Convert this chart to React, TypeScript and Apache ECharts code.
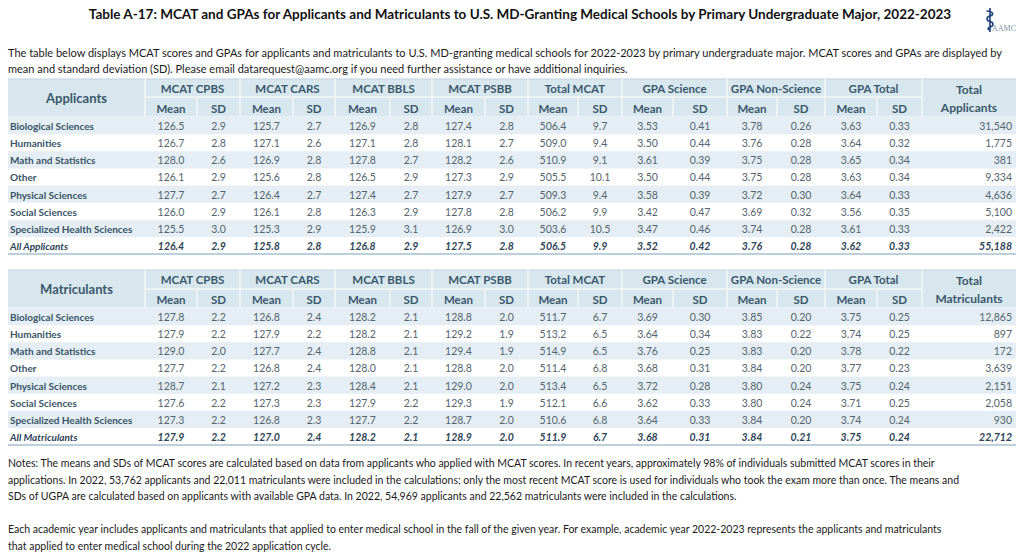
import React, { useEffect, useRef } from "react";
import * as echarts from "echarts";

// ---------- DATA ----------
const groupHeaders = ["MCAT CPBS", "MCAT CARS", "MCAT BBLS", "MCAT PSBB", "Total MCAT", "GPA Science", "GPA Non-Science", "GPA Total"];
const subHeaders = ["Mean", "SD"];
const majors = ["Biological Sciences", "Humanities", "Math and Statistics", "Other", "Physical Sciences", "Social Sciences", "Specialized Health Sciences"];

// Applicants (last entry = All Applicants)
const appCpbsMean = [126.5, 126.7, 128.0, 126.1, 127.7, 126.0, 125.5, 126.4];
const appCpbsSD = [2.9, 2.8, 2.6, 2.9, 2.7, 2.9, 3.0, 2.9];
const appCarsMean = [125.7, 127.1, 126.9, 125.6, 126.4, 126.1, 125.3, 125.8];
const appCarsSD = [2.7, 2.6, 2.8, 2.8, 2.7, 2.8, 2.9, 2.8];
const appBblsMean = [126.9, 127.1, 127.8, 126.5, 127.4, 126.3, 125.9, 126.8];
const appBblsSD = [2.8, 2.8, 2.7, 2.9, 2.7, 2.9, 3.1, 2.9];
const appPsbbMean = [127.4, 128.1, 128.2, 127.3, 127.9, 127.8, 126.9, 127.5];
const appPsbbSD = [2.8, 2.7, 2.6, 2.9, 2.7, 2.8, 3.0, 2.8];
const appTotalMean = [506.4, 509.0, 510.9, 505.5, 509.3, 506.2, 503.6, 506.5];
const appTotalSD = [9.7, 9.4, 9.1, 10.1, 9.4, 9.9, 10.5, 9.9];
const appGpaSciMean = [3.53, 3.50, 3.61, 3.50, 3.58, 3.42, 3.47, 3.52];
const appGpaSciSD = [0.41, 0.44, 0.39, 0.44, 0.39, 0.47, 0.46, 0.42];
const appGpaNonMean = [3.78, 3.76, 3.75, 3.75, 3.72, 3.69, 3.74, 3.76];
const appGpaNonSD = [0.26, 0.28, 0.28, 0.28, 0.30, 0.32, 0.28, 0.28];
const appGpaTotMean = [3.63, 3.64, 3.65, 3.63, 3.64, 3.56, 3.61, 3.62];
const appGpaTotSD = [0.33, 0.32, 0.34, 0.34, 0.33, 0.35, 0.33, 0.33];
const appCount = [31540, 1775, 381, 9334, 4636, 5100, 2422, 55188];

// Matriculants (last entry = All Matriculants)
const matCpbsMean = [127.8, 127.9, 129.0, 127.7, 128.7, 127.6, 127.3, 127.9];
const matCpbsSD = [2.2, 2.2, 2.0, 2.2, 2.1, 2.2, 2.2, 2.2];
const matCarsMean = [126.8, 127.9, 127.7, 126.8, 127.2, 127.3, 126.8, 127.0];
const matCarsSD = [2.4, 2.2, 2.4, 2.4, 2.3, 2.3, 2.3, 2.4];
const matBblsMean = [128.2, 128.2, 128.8, 128.0, 128.4, 127.9, 127.7, 128.2];
const matBblsSD = [2.1, 2.1, 2.1, 2.1, 2.1, 2.2, 2.2, 2.1];
const matPsbbMean = [128.8, 129.2, 129.4, 128.8, 129.0, 129.3, 128.7, 128.9];
const matPsbbSD = [2.0, 1.9, 1.9, 2.0, 2.0, 1.9, 2.0, 2.0];
const matTotalMean = [511.7, 513.2, 514.9, 511.4, 513.4, 512.1, 510.6, 511.9];
const matTotalSD = [6.7, 6.5, 6.5, 6.8, 6.5, 6.6, 6.8, 6.7];
const matGpaSciMean = [3.69, 3.64, 3.76, 3.68, 3.72, 3.62, 3.64, 3.68];
const matGpaSciSD = [0.30, 0.34, 0.25, 0.31, 0.28, 0.33, 0.33, 0.31];
const matGpaNonMean = [3.85, 3.83, 3.83, 3.84, 3.80, 3.80, 3.84, 3.84];
const matGpaNonSD = [0.20, 0.22, 0.20, 0.20, 0.24, 0.24, 0.20, 0.21];
const matGpaTotMean = [3.75, 3.74, 3.78, 3.77, 3.75, 3.71, 3.74, 3.75];
const matGpaTotSD = [0.25, 0.25, 0.22, 0.23, 0.24, 0.25, 0.24, 0.24];
const matCount = [12865, 897, 172, 3639, 2151, 2058, 930, 22712];

const titleText = "Table A-17: MCAT and GPAs for Applicants and Matriculants to U.S. MD-Granting Medical Schools by Primary Undergraduate Major, 2022-2023";
const introLines = [
  "The table below displays MCAT scores and GPAs for applicants and matriculants to U.S. MD-granting medical schools for 2022-2023 by primary undergraduate major. MCAT scores and GPAs are displayed by",
  "mean and standard deviation (SD). Please email datarequest@aamc.org if you need further assistance or have additional inquiries.",
];
const noteLines = [
  "Notes: The means and SDs of MCAT scores are calculated based on data from applicants who applied with MCAT scores. In recent years, approximately 98% of individuals submitted MCAT scores in their",
  "applications. In 2022, 53,762 applicants and 22,011 matriculants were included in the calculations; only the most recent MCAT score is used for individuals who took the exam more than once. The means and",
  "SDs of UGPA are calculated based on applicants with available GPA data. In 2022, 54,969 applicants and 22,562 matriculants were included in the calculations.",
  "",
  "Each academic year includes applicants and matriculants that applied to enter medical school in the fall of the given year. For example, academic year 2022-2023 represents the applicants and matriculants",
  "that applied to enter medical school during the 2022 application cycle.",
];

// ---------- LAYOUT / STYLE ----------
const FONT = "Lato";
const EDGES = [0, 137, 189, 232, 285, 327, 382, 424, 477, 520, 570, 614, 665, 719, 769, 817, 869, 914, 1008];
const LEFT = 8;
const WIDTH = 1008;
const HEADER_BG = "#d8e6ee";
const STRIPE = "#e4eef4";
const HEADER_TEXT = "#3b586b";
const LABEL_TEXT = "#3a5467";
const DATA_TEXT = "#55646e";
const ALL_TEXT = "#2e4456";
const BORDER = "#a6c1d1";

const tables = [
  { name: "Applicants", all: "All Applicants", totalLabel: "Applicants", headerTop: 79, rowSplit: 97, dataTop: 117, dataH: 137,
    cols: [appCpbsMean, appCpbsSD, appCarsMean, appCarsSD, appBblsMean, appBblsSD, appPsbbMean, appPsbbSD, appTotalMean, appTotalSD, appGpaSciMean, appGpaSciSD, appGpaNonMean, appGpaNonSD, appGpaTotMean, appGpaTotSD], count: appCount },
  { name: "Matriculants", all: "All Matriculants", totalLabel: "Matriculants", headerTop: 270, rowSplit: 289, dataTop: 308, dataH: 137,
    cols: [matCpbsMean, matCpbsSD, matCarsMean, matCarsSD, matBblsMean, matBblsSD, matPsbbMean, matPsbbSD, matTotalMean, matTotalSD, matGpaSciMean, matGpaSciSD, matGpaNonMean, matGpaNonSD, matGpaTotMean, matGpaTotSD], count: matCount },
];

const fmt = (v: number, ci: number) => v.toFixed(ci >= 10 ? 2 : 1);

function rowCells(t: typeof tables[number], r: number): string[] {
  const label = r < majors.length ? majors[r] : t.all;
  return [label, ...t.cols.map((arr, ci) => fmt(arr[r], ci)), t.count[r].toLocaleString("en-US")];
}

function headerGraphics(t: typeof tables[number]) {
  const els: any[] = [];
  const x = (e: number) => LEFT + EDGES[e];
  const top = t.headerTop, split = t.rowSplit, bottom = t.dataTop;
  els.push({ type: "rect", shape: { x: LEFT, y: top, width: WIDTH, height: bottom - top }, style: { fill: HEADER_BG } });
  els.push({ type: "line", shape: { x1: LEFT, y1: top, x2: LEFT + WIDTH, y2: top }, style: { stroke: "#bfd3df", lineWidth: 1 } });
  els.push({ type: "line", shape: { x1: x(1), y1: split, x2: x(17), y2: split }, style: { stroke: "#ffffff", lineWidth: 1 } });
  els.push({ type: "line", shape: { x1: LEFT, y1: bottom, x2: LEFT + WIDTH, y2: bottom }, style: { stroke: "#ffffff", lineWidth: 1 } });
  for (let e = 1; e <= 17; e++) {
    const isGroup = e % 2 === 1;
    els.push({ type: "line", shape: { x1: x(e), y1: isGroup ? top : split, x2: x(e), y2: bottom }, style: { stroke: "#ffffff", lineWidth: 1 } });
  }
  els.push({ type: "text", x: (x(0) + x(1)) / 2, y: (top + bottom) / 2, style: { text: t.name, fill: HEADER_TEXT, font: `bold 13px ${FONT}`, textAlign: "center", textVerticalAlign: "middle" } });
  groupHeaders.forEach((g, i) => {
    els.push({ type: "text", x: (x(1 + 2 * i) + x(3 + 2 * i)) / 2, y: (top + split) / 2, style: { text: g, fill: HEADER_TEXT, font: `bold 11.5px ${FONT}`, textAlign: "center", textVerticalAlign: "middle" } });
    subHeaders.forEach((s, k) => {
      els.push({ type: "text", x: (x(1 + 2 * i + k) + x(2 + 2 * i + k)) / 2, y: (split + bottom) / 2 + 1, style: { text: s, fill: HEADER_TEXT, font: `bold 11.5px ${FONT}`, textAlign: "center", textVerticalAlign: "middle" } });
    });
  });
  els.push({ type: "text", x: (x(17) + x(18)) / 2, y: top + 10, style: { text: "Total", fill: HEADER_TEXT, font: `bold 12px ${FONT}`, textAlign: "center", textVerticalAlign: "middle" } });
  els.push({ type: "text", x: (x(17) + x(18)) / 2, y: top + 28, style: { text: t.totalLabel, fill: HEADER_TEXT, font: `bold 12px ${FONT}`, textAlign: "center", textVerticalAlign: "middle" } });
  return els;
}

export default function App() {
  const ref = useRef<HTMLDivElement>(null);
  useEffect(() => {
    if (!ref.current) return;
    echarts.graphic.registerShape(
      "logo",
      echarts.graphic.extendPath("M5 0 L5 24 M1.5 3 C9 3.5 9 7 5 8 C1 9 1 12.5 5 13.5 C9 14.5 9 18 5 19 C3 19.5 2.5 21 4 22", {}) as any
    );
    const chart = echarts.init(ref.current, undefined, { renderer: "svg" });

    const rowLabels = (t: typeof tables[number]) => [...majors, t.all];

    const graphics: any[] = [];
    graphics.push({ type: "text", x: 520, y: 14, style: { text: titleText, fill: "#111111", font: `bold 13.5px ${FONT}`, textAlign: "center", textVerticalAlign: "middle" } });
    introLines.forEach((l, i) => graphics.push({ type: "text", x: 8, y: 52 + i * 16.5, style: { text: l, fill: "#1a1a1a", font: `11px ${FONT}`, textAlign: "left", textVerticalAlign: "middle" } }));
    noteLines.forEach((l, i) => {
      if (l) graphics.push({ type: "text", x: 8, y: 463 + i * 16.5, style: { text: l, fill: "#1a1a1a", font: `10.5px ${FONT}`, textAlign: "left", textVerticalAlign: "middle" } });
    });
    tables.forEach((t) => graphics.push(...headerGraphics(t)));
    graphics.push({ type: "logo", x: 985, y: 8, style: { stroke: "#1d3f7a", fill: "none", lineWidth: 1.6 } });
    graphics.push({ type: "text", x: 992, y: 28, style: { text: "AAMC", fill: "#7f93a8", font: `8px "Liberation Serif"`, textAlign: "left", textVerticalAlign: "middle" } });

    const series = tables.map((t, ti) => ({
      type: "custom" as const,
      xAxisIndex: ti,
      yAxisIndex: ti,
      clip: false,
      data: rowLabels(t).map((_, i) => [0, i]),
      renderItem: (params: any, api: any) => {
        const r = api.value(1) as number;
        const c = api.coord([0, r]);
        const h = api.size([0, 1])[1];
        const yTop = c[1] - h / 2;
        const x0 = api.coord([EDGES[0], r])[0];
        const x1 = api.coord([EDGES[EDGES.length - 1], r])[0];
        const isAll = r === majors.length;
        const children: any[] = [];
        if (r % 2 === 0 && !isAll) {
          children.push({ type: "rect", shape: { x: x0, y: yTop, width: x1 - x0, height: h }, style: { fill: STRIPE } });
        }
        const cells = rowCells(t, r);
        cells.forEach((txt, j) => {
          const xa = api.coord([EDGES[j], r])[0];
          const xb = api.coord([EDGES[j + 1], r])[0];
          let x = (xa + xb) / 2;
          let align = "center";
          if (j === 0) { x = xa + 2; align = "left"; }
          else if (j === cells.length - 1) { x = xb - 4; align = "right"; }
          children.push({
            type: "text",
            style: {
              text: txt, x, y: c[1] + 0.5, align, verticalAlign: "middle",
              fill: isAll ? ALL_TEXT : j === 0 ? LABEL_TEXT : DATA_TEXT,
              fontFamily: FONT,
              fontSize: j === 0 ? 10 : 10.5,
              fontWeight: isAll || j === 0 ? "bold" : "normal",
              fontStyle: isAll ? "italic" : "normal",
            },
          });
        });
        if (isAll) {
          children.push({ type: "line", shape: { x1: x0, y1: yTop + h, x2: x1, y2: yTop + h }, style: { stroke: BORDER, lineWidth: 1.5 } });
        }
        return { type: "group", children };
      },
    }));

    chart.setOption({
      animation: false,
      backgroundColor: "#ffffff",
      grid: tables.map((t) => ({ left: LEFT, width: WIDTH, top: t.dataTop, height: t.dataH, containLabel: false })),
      xAxis: tables.map((_, i) => ({ type: "value", gridIndex: i, min: 0, max: WIDTH, show: false })),
      yAxis: tables.map((t, i) => ({ type: "category", gridIndex: i, data: rowLabels(t), inverse: true, show: false })),
      graphic: { elements: graphics },
      series,
    });
    return () => chart.dispose();
  }, []);
  return <div ref={ref} style={{ position: "fixed", left: 0, top: 0, width: 1024, height: 552 }} />;
}
